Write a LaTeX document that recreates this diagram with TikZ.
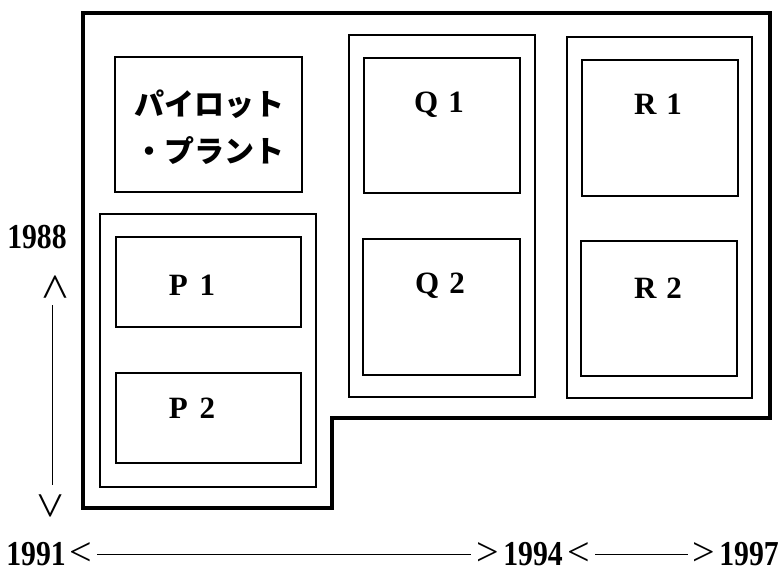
\documentclass[tikz,border=0pt]{standalone}
\usepackage{fontspec}
\setmainfont{Liberation Serif}
\newfontfamily\jpfont{Noto Sans CJK JP}
\usetikzlibrary{fit}

\newcommand{\yr}[1]{\scalebox{0.85}[1]{\fontsize{35}{35}\selectfont\bfseries #1}}

\tikzset{
  outerline/.style={line width=3.6pt, line join=miter},
  groupbox/.style={draw, line width=1.1pt, inner sep=0pt},
  unitbox/.style={draw, line width=1.4pt, inner sep=0pt},
  unitlabel/.style={font=\fontsize{31}{31}\selectfont\bfseries, inner sep=0pt, anchor=base},
  year/.style={inner sep=0pt, anchor=base},
  chev/.style={font=\fontsize{48}{48}\selectfont, inner sep=0pt},
  hchev/.style={font=\fontsize{40}{40}\selectfont, inner sep=0pt},
  axis/.style={line width=0.9pt},
}

\begin{document}
\begin{tikzpicture}[x=1pt, y=-1pt]
\useasboundingbox (0,0) rectangle (780,571);

% site outline
\draw[outerline] (83,13) -- (770,13) -- (770,418) -- (332,418)
  -- (332,508) -- (83,508) -- cycle;

% pilot plant
\node[unitbox, fit={(115,57) (302,192)}] (pilot) {};
\node[font=\fontsize{30}{47}\selectfont\jpfont\bfseries, align=center, inner sep=0pt]
  (pilottext) at (209,127) {パイロット\\・プラント};

% group P
\node[groupbox, fit={(100,214) (316,487)}] (gp) {};
\node[unitbox, fit={(116,237) (301,327)}] (p1) {};
\node[unitbox, fit={(116,373) (301,463)}] (p2) {};
\node[unitlabel] (p1t) at (192,295) {P\hspace{12pt}1};
\node[unitlabel] (p2t) at (192,418) {P\hspace{12pt}2};

% group Q
\node[groupbox, fit={(349,35) (535,397)}] (gq) {};
\node[unitbox, fit={(364,58) (520,193)}] (q1) {};
\node[unitbox, fit={(363,239) (520,375)}] (q2) {};
\node[unitlabel] (q1t) at (439,112) {Q\hspace{10pt}1};
\node[unitlabel] (q2t) at (440,293) {Q\hspace{10pt}2};

% group R
\node[groupbox, fit={(567,37) (752,398)}] (gr) {};
\node[unitbox, fit={(582,60) (738,196)}] (r1) {};
\node[unitbox, fit={(581,241) (737,376)}] (r2) {};
\node[unitlabel] (r1t) at (658,114) {R\hspace{10pt}1};
\node[unitlabel] (r2t) at (658,298) {R\hspace{10pt}2};

% vertical time axis
\node[year] (y1988) at (37,248) {\yr{1988}};
\node[chev] (up) at (53,287) {\rotatebox{-90}{<}};
\node[chev] (down) at (53,506) {\rotatebox{90}{<}};
\coordinate (vtop) at (52,305);
\coordinate (vbot) at (52,485);
\draw[axis] (vtop) -- (vbot);

% horizontal time axis
\node[year] (y1991) at (36,565) {\yr{1991}};
\node[year] (y1994) at (533,565) {\yr{1994}};
\node[year] (y1997) at (749,565) {\yr{1997}};
\node[hchev] (l1) at (81,554) {<};
\node[hchev] (r2) at (488,554) {>};
\node[hchev] (l2) at (579,554) {<};
\node[hchev] (r3) at (704,554) {>};
\draw[axis, shorten <=5pt, shorten >=6pt] (l1.east |- 0,554) -- (r2.west |- 0,554);
\draw[axis, shorten <=5pt, shorten >=5pt] (l2.east |- 0,554) -- (r3.west |- 0,554);
\end{tikzpicture}
\end{document}
